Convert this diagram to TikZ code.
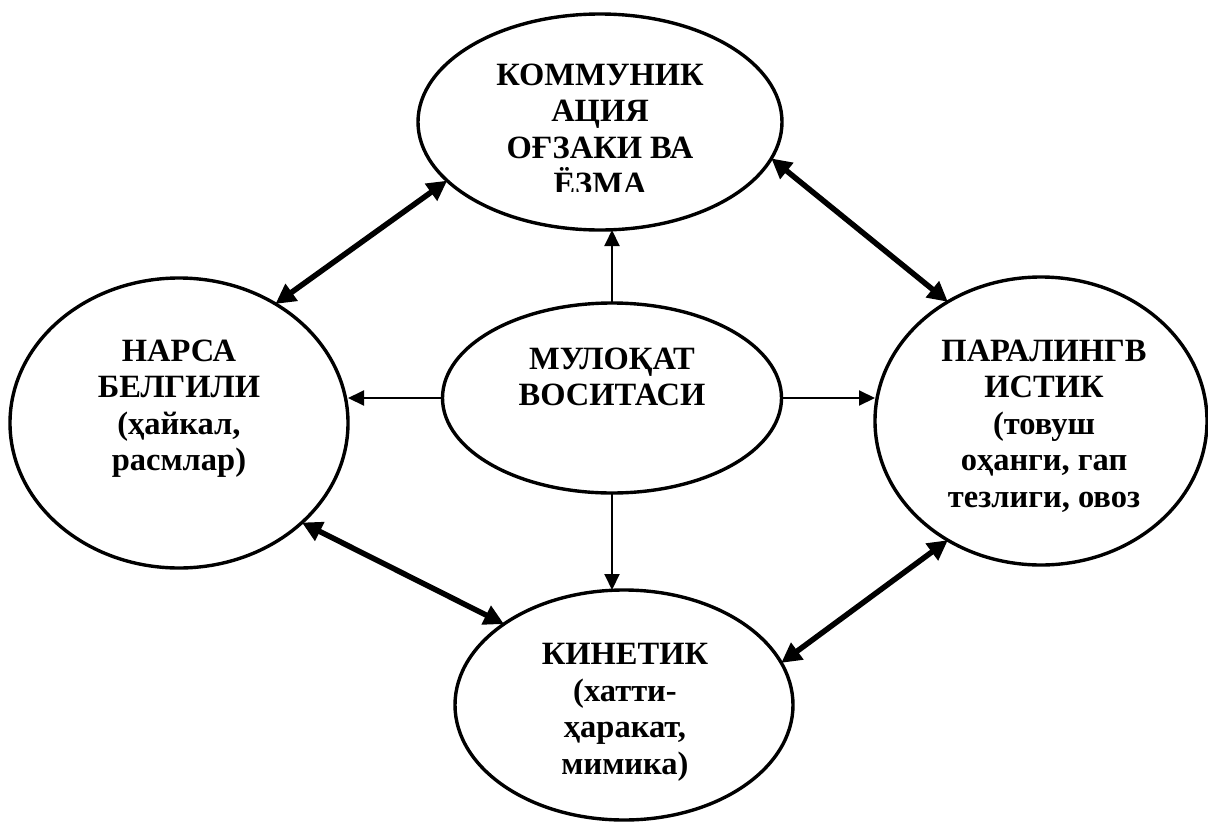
\documentclass[tikz,border=0pt]{standalone}
\usepackage{fontspec}
\setmainfont{Liberation Serif}
\usetikzlibrary{shapes.geometric,arrows.meta}
\begin{document}
\begin{tikzpicture}[x=1pt,y=-1pt,
  oval/.style={ellipse,draw,line width=3.4pt,inner sep=0pt,outer sep=0pt},
  lbl/.style={align=center,inner sep=0pt,anchor=north,
    font=\fontsize{32.5}{36.5}\selectfont\bfseries},
  thinarr/.style={line width=2pt,-{Triangle[length=16pt,width=15pt]}},
  thickarr/.style={line width=5.5pt,{Triangle[length=20pt,width=20pt]}-{Triangle[length=20pt,width=20pt]}}]
\useasboundingbox (0,0) rectangle (1208,825);
% ellipses
\node[oval,minimum width=364pt,minimum height=216pt] (top) at (600,122) {};
\node[oval,minimum width=338pt,minimum height=290pt] (left) at (179,423) {};
\node[oval,minimum width=332pt,minimum height=288pt] (right) at (1041,421) {};
\node[oval,minimum width=338pt,minimum height=230pt] (bot) at (624,705) {};
\node[oval,minimum width=339pt,minimum height=190pt] (mid) at (612,398) {};
% texts
\begin{scope}
\clip (400,0) rectangle (800,191);
\node[lbl] (ttop) at (600,63.5) {КОММУНИК\\АЦИЯ\\ОҒЗАКИ ВА\\ЁЗМА};
\end{scope}
\node[lbl] (tleft) at (179,339.5) {НАРСА\\БЕЛГИЛИ\\(ҳайкал,\\расмлар)};
\node[lbl] (tright) at (1044,339.5) {ПАРАЛИНГВ\\ИСТИК\\(товуш\\оҳанги, гап\\тезлиги, овоз};
\node[lbl] (tbot) at (625,643.5) {КИНЕТИК\\(хатти-\\ҳаракат,\\мимика)};
\node[lbl] (tmid) at (612,347.5) {МУЛОҚАТ\\ВОСИТАСИ};
% thin arrows from centre
\draw[thinarr] (mid.north) -- (mid.north |- top.south);
\draw[thinarr] (mid.south) -- (mid.south |- bot.north);
\draw[thinarr] (mid.west) -- (mid.west -| left.east);
\draw[thinarr] (mid.east) -- (mid.east -| right.west);
% thick double arrows
\draw[thickarr] (left.51.3) -- (top.201.5);
\draw[thickarr] (top.348.2) -- (right.128.5);
\draw[thickarr] (left.321.4) -- (bot.146.8);
\draw[thickarr] (bot.15.2) -- (right.232.4);
\end{tikzpicture}
\end{document}
